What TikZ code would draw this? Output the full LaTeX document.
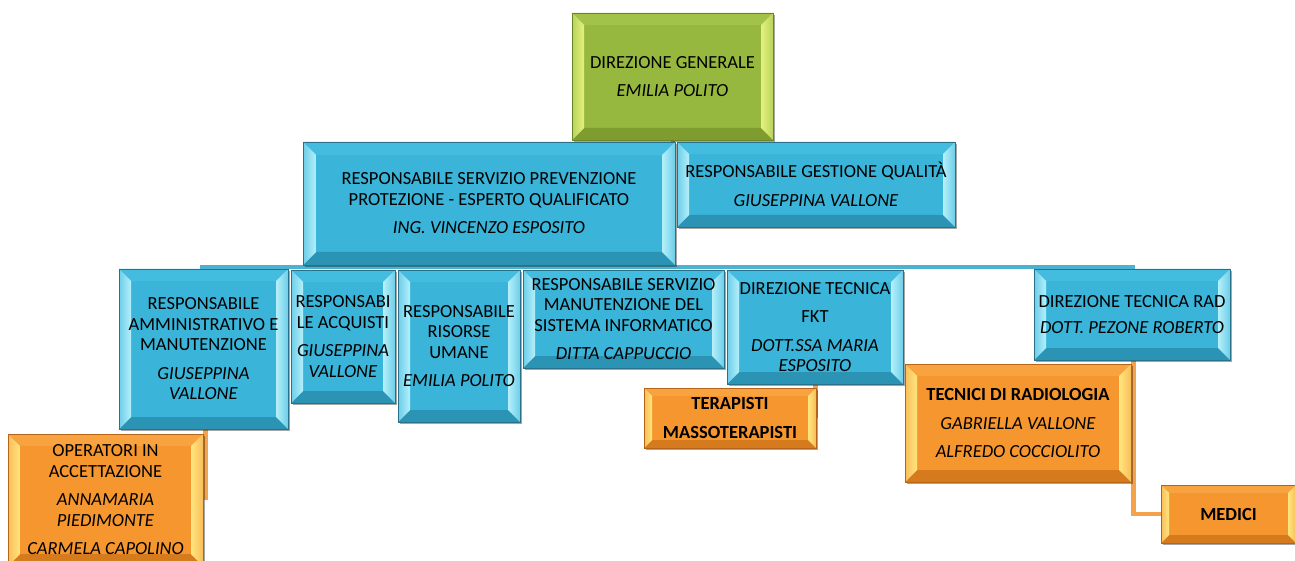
\documentclass[tikz,border=0pt]{standalone}
\usepackage{fontspec}
\setmainfont{Carlito}
\usetikzlibrary{shadows}
\pgfdeclarelayer{back}
\pgfdeclarelayer{bg}
\pgfsetlayers{back,bg,main}

\definecolor{bluemain}{HTML}{3AB4D8}
\definecolor{bluetop}{HTML}{44BCDF}
\definecolor{blueA}{HTML}{6CCDE8}
\definecolor{blueB}{HTML}{B5F0FB}
\definecolor{bluebot}{HTML}{2B93B3}
\definecolor{blueline}{HTML}{2A7089}
\definecolor{greenmain}{HTML}{97B83F}
\definecolor{greentop}{HTML}{A2C347}
\definecolor{greenA}{HTML}{B8D35A}
\definecolor{greenB}{HTML}{E4F27E}
\definecolor{greenbot}{HTML}{7E9C2F}
\definecolor{greenline}{HTML}{6A8428}
\definecolor{orangemain}{HTML}{F5962F}
\definecolor{orangetop}{HTML}{F8A340}
\definecolor{orangeA}{HTML}{F9BD58}
\definecolor{orangeB}{HTML}{FFE680}
\definecolor{orangebot}{HTML}{D57B1D}
\definecolor{orangeline}{HTML}{B5651A}
\definecolor{busblue}{HTML}{4DB2D1}
\definecolor{connorange}{HTML}{F4A24C}

\def\bevsz{12pt}
\tikzset{
  bevsize/.code={\def\bevsz{#1}},
  bev/.style={fill=#1main, draw=#1line, line width=0.8pt, inner sep=0pt,
    align=center, text=black, font=\fontsize{18.5}{20.5}\selectfont,
    drop shadow={shadow xshift=2pt, shadow yshift=-2pt, fill=black, opacity=0.35},
    path picture={
      \path (path picture bounding box.north west) coordinate (o1)
            (path picture bounding box.north east) coordinate (o2)
            (path picture bounding box.south east) coordinate (o3)
            (path picture bounding box.south west) coordinate (o4)
            ([shift={(\bevsz,-\bevsz)}]o1) coordinate (i1)
            ([shift={(-\bevsz,-\bevsz)}]o2) coordinate (i2)
            ([shift={(-\bevsz,\bevsz)}]o3) coordinate (i3)
            ([shift={(\bevsz,\bevsz)}]o4) coordinate (i4);
      \fill[#1top] (o1) -- (o2) -- (i2) -- (i1) -- cycle;
      \fill[#1bot] (o4) -- (o3) -- (i3) -- (i4) -- cycle;
      \shade[left color=#1A, right color=#1B] (o1) -- (i1) -- (i4) -- (o4) -- cycle;
      \shade[left color=#1B, right color=#1A] (o2) -- (i2) -- (i3) -- (o3) -- cycle;
    }},
  bluebox/.style={bev=blue},
  greenbox/.style={bev=green},
  orangebox/.style={bev=orange},
  busline/.style={draw=busblue, line width=4pt},
  oline/.style={draw=connorange, line width=4.5pt},
}

\begin{document}
\begin{tikzpicture}[x=1pt,y=-1pt]
\useasboundingbox (0,0) rectangle (1295,561);
\begin{pgfonlayer}{back}
  \fill[white] (0,0) rectangle (1295,561);
\end{pgfonlayer}

\node[greenbox, minimum width=201pt, minimum height=127pt] (DG) at (672.5,76.5)
  {DIREZIONE GENERALE\\[7pt]\textit{EMILIA POLITO}};
\node[bluebox, minimum width=372pt, minimum height=123pt, bevsize=13pt] (RSPP) at (489,203.5)
  {RESPONSABILE SERVIZIO PREVENZIONE\\PROTEZIONE - ESPERTO QUALIFICATO\\[8pt]\textit{ING. VINCENZO ESPOSITO}};
\node[bluebox, minimum width=278pt, minimum height=85pt] (RGQ) at (816,184.5)
  {RESPONSABILE GESTIONE QUALITÀ\\[8pt]\textit{GIUSEPPINA VALLONE}};

\node[bluebox, minimum width=169pt, minimum height=160pt] (RAM) at (203.5,349)
  {RESPONSABILE\\AMMINISTRATIVO E\\MANUTENZIONE\\[8pt]\textit{GIUSEPPINA}\\\textit{VALLONE}};
\node[bluebox, minimum width=104pt, minimum height=133pt] (RA) at (343,336.5)
  {RESPONSABI\\LE ACQUISTI\\[8pt]\textit{GIUSEPPINA}\\\textit{VALLONE}};
\node[bluebox, minimum width=122pt, minimum height=152pt] (RRU) at (459,346)
  {RESPONSABILE\\RISORSE\\UMANE\\[8pt]\textit{EMILIA POLITO}};
\node[bluebox, minimum width=201pt, minimum height=98pt] (RSMSI) at (623.5,319)
  {RESPONSABILE SERVIZIO\\MANUTENZIONE DEL\\SISTEMA INFORMATICO\\[8pt]\textit{DITTA CAPPUCCIO}};
\node[bluebox, minimum width=176pt, minimum height=114pt] (DTF) at (815,327)
  {DIREZIONE TECNICA\\[8pt]FKT\\[8pt]\textit{DOTT.SSA MARIA}\\\textit{ESPOSITO}};
\node[bluebox, minimum width=196pt, minimum height=91pt] (DTR) at (1132,314.5)
  {DIREZIONE TECNICA RAD\\[6pt]\textit{DOTT. PEZONE ROBERTO}};

\node[orangebox, minimum width=195pt, minimum height=132pt] (OPA) at (105.5,500)
  {OPERATORI IN\\ACCETTAZIONE\\[8pt]\textit{ANNAMARIA}\\\textit{PIEDIMONTE}\\[8pt]\textit{CARMELA CAPOLINO}};
\node[orangebox, minimum width=172pt, minimum height=60pt, bevsize=8pt] (TM) at (730,418)
  {\textbf{TERAPISTI}\\[8pt]\textbf{MASSOTERAPISTI}};
\node[orangebox, minimum width=226pt, minimum height=118pt] (TR) at (1018,423)
  {\textbf{TECNICI DI RADIOLOGIA}\\[8pt]\textit{GABRIELLA VALLONE}\\[8pt]\textit{ALFREDO COCCIOLITO}};
\node[orangebox, minimum width=135pt, minimum height=58pt, bevsize=8pt] (MED) at (1228.5,514)
  {\textbf{MEDICI}};

\coordinate (busL) at (200,267);
\coordinate (busR) at (1135,267);

\begin{pgfonlayer}{bg}
  \draw[busline] (busL) -- (busR);
  \draw[busline] (DG.south) -- (DG.south |- busL);
  \draw[oline] ([xshift=2pt]OPA.east |- RAM.south) -- ([xshift=2pt]OPA.east);
  \draw[oline] ([xshift=-1pt]TM.east |- DTF.south) -- ([xshift=-1pt]TM.east);
  \draw[oline] ([xshift=2pt]TR.east |- DTR.south) |- (MED.west);
\end{pgfonlayer}
\end{tikzpicture}
\end{document}
